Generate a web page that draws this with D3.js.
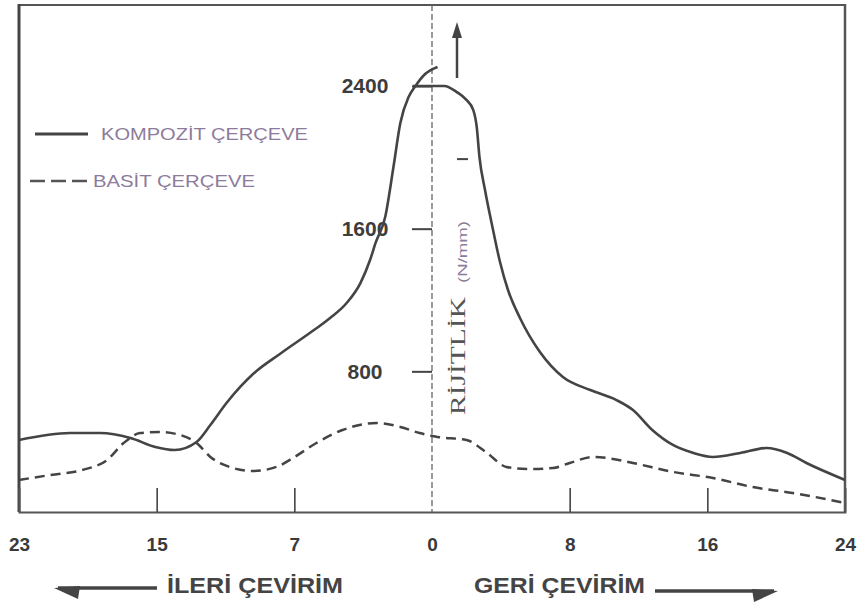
<!DOCTYPE html>
<html>
<head>
<meta charset="utf-8">
<script src="https://cdn.jsdelivr.net/npm/d3@7"></script>
<style>
  body { margin: 0; background: #fff; }
  svg { display: block; font-family: "Liberation Sans", Arial, sans-serif; }
</style>
</head>
<body>
<div id="chart"></div>
<script>
// eksen konumu: bir aralik = bir tik (sol taraf ileri cevirim, sag taraf geri cevirim)
const xTickPos = [-3, -2, -1, 0, 1, 2, 3];
const xTickLabels = ["23", "15", "7", "0", "8", "16", "24"];
const yTicks = [800, 1600, 2400];

// KOMPOZIT CERCEVE, ileri cevirim kolu
const kompozitIleriX = [-3, -2.63, -2.41, -2.19, -2.01, -1.87, -1.71, -1.61, -1.49, -1.39, -1.3, -1.1, -0.86, -0.74, -0.62, -0.52, -0.45, -0.41, -0.34, -0.28, -0.23, -0.17, -0.12, -0.05, 0.04];
const kompozitIleriY = [415, 454, 454, 426, 376, 359, 404, 499, 625, 715, 785, 900, 1030, 1099, 1183, 1295, 1424, 1520, 1665, 1946, 2193, 2338, 2400, 2467, 2507];

// KOMPOZIT CERCEVE, geri cevirim kolu
const kompozitGeriX = [-0.14, 0.09, 0.18, 0.25, 0.3, 0.325, 0.345, 0.385, 0.436, 0.494, 0.552, 0.639, 0.784, 0.951, 1.15, 1.34, 1.46, 1.6, 1.75, 1.9, 2.04, 2.24, 2.43, 2.58, 2.72, 3];
const kompozitGeriY = [2400, 2400, 2366, 2322, 2265, 2170, 2000, 1817, 1621, 1413, 1256, 1099, 908, 768, 695, 639, 583, 471, 387, 342, 320, 342, 370, 342, 286, 191];

// BASIT CERCEVE
const basitX = [-3, -2.77, -2.54, -2.36, -2.24, -2.12, -1.98, -1.83, -1.71, -1.61, -1.47, -1.3, -1.13, -1.01, -0.84, -0.65, -0.4, -0.23, -0.09, 0.04, 0.25, 0.4, 0.54, 0.69, 0.88, 1, 1.17, 1.27, 1.46, 1.75, 2.04, 2.33, 2.62, 3];
const basitY = [191, 219, 247, 303, 398, 454, 460, 443, 398, 320, 264, 241, 264, 314, 398, 471, 510, 488, 454, 432, 415, 342, 264, 252, 258, 286, 320, 314, 286, 236, 202, 151, 118, 62];

const width = 862, height = 610;
const frame = { left: 19, right: 845, top: 5, bottom: 512 };

const svg = d3.select("#chart").append("svg").attr("width", width).attr("height", height);

const x = d3.scaleLinear().domain([-3, 3]).range([frame.left, frame.right]);
const y = d3.scaleLinear().domain([0, 2400]).range([514, 86]);

const zip = (xs, ys) => xs.map((v, i) => [v, ys[i]]);
const line = d3.line().x((d) => x(d[0])).y((d) => y(d[1])).curve(d3.curveMonotoneX);

// cerceve
svg.append("line").attr("x1", frame.left).attr("x2", frame.right).attr("y1", frame.top).attr("y2", frame.top)
  .attr("stroke", "#555").attr("stroke-width", 2);
svg.append("line").attr("x1", frame.left).attr("x2", frame.left).attr("y1", frame.top - 1).attr("y2", frame.bottom)
  .attr("stroke", "#444").attr("stroke-width", 3);
svg.append("line").attr("x1", frame.right).attr("x2", frame.right).attr("y1", frame.top - 1).attr("y2", frame.bottom)
  .attr("stroke", "#555").attr("stroke-width", 2.5);

// orta eksen (kesik cizgi)
svg.append("line").attr("x1", x(0)).attr("x2", x(0)).attr("y1", frame.top).attr("y2", frame.bottom)
  .attr("stroke", "#666").attr("stroke-width", 1.3).attr("stroke-dasharray", "6,3");

// x ekseni
const xAxis = svg.append("g").attr("transform", `translate(0,${frame.bottom})`)
  .call(d3.axisBottom(x).tickValues(xTickPos).tickSize(-24).tickPadding(26).tickFormat((d, i) => xTickLabels[i]));
xAxis.select(".domain").attr("stroke", "#555").attr("stroke-width", 2);
xAxis.selectAll(".tick line").attr("stroke", "#444").attr("stroke-width", 1.6)
  .filter((d) => Math.abs(d) === 3 || d === 0).remove();
xAxis.selectAll(".tick text").attr("font-size", 19).attr("font-weight", "bold").attr("fill", "#3a3a3a")
  .attr("font-family", "Liberation Sans, Arial, sans-serif");

// y ekseni
const yAxis = svg.append("g").attr("transform", `translate(${x(0)},0)`)
  .call(d3.axisLeft(y).tickValues(yTicks).tickSize(20).tickPadding(48).tickFormat(d3.format("d")));
yAxis.select(".domain").remove();
yAxis.selectAll(".tick line").attr("stroke", "#444").attr("stroke-width", 2);
yAxis.selectAll(".tick text").attr("text-anchor", "middle").attr("x", -67).attr("font-size", 21)
  .attr("font-weight", "bold").attr("fill", "#3d3d3d").attr("font-family", "Liberation Sans, Arial, sans-serif");
svg.append("line").attr("x1", x(0) + 25).attr("x2", x(0) + 36).attr("y1", y(1990)).attr("y2", y(1990))
  .attr("stroke", "#444").attr("stroke-width", 2);

// yukari ok
svg.append("line").attr("x1", 457).attr("x2", 457).attr("y1", 78).attr("y2", 34).attr("stroke", "#444").attr("stroke-width", 2.5);
svg.append("path").attr("d", "M457,22 L462,38 L452,38 Z").attr("fill", "#444");

// eksen yazisi
svg.append("g").attr("transform", "translate(465,356) rotate(-90)")
  .append("text").attr("text-anchor", "middle").attr("font-family", "Liberation Serif, serif")
  .attr("font-size", 22).attr("fill", "#555").attr("textLength", 118).attr("lengthAdjust", "spacingAndGlyphs")
  .text("RİJİTLİK");
svg.append("g").attr("transform", "translate(467,252) rotate(-90)")
  .append("text").attr("text-anchor", "middle").attr("font-size", 12).attr("fill", "#8d7b9b")
  .attr("textLength", 62).attr("lengthAdjust", "spacingAndGlyphs").text("(N/mm)");

// egriler
svg.append("path").attr("d", line(zip(basitX, basitY))).attr("fill", "none")
  .attr("stroke", "#444").attr("stroke-width", 2.5).attr("stroke-dasharray", "10,6");
svg.append("path").attr("d", line(zip(kompozitIleriX, kompozitIleriY))).attr("fill", "none")
  .attr("stroke", "#444").attr("stroke-width", 2.6);
svg.append("path").attr("d", line(zip(kompozitGeriX, kompozitGeriY))).attr("fill", "none")
  .attr("stroke", "#444").attr("stroke-width", 2.6);

// lejant
svg.append("line").attr("x1", 35).attr("x2", 88).attr("y1", 134).attr("y2", 134).attr("stroke", "#444").attr("stroke-width", 3);
svg.append("text").attr("x", 101).attr("y", 140).attr("font-size", 17).attr("fill", "#8d7b9b")
  .attr("textLength", 207).attr("lengthAdjust", "spacingAndGlyphs").text("KOMPOZİT ÇERÇEVE");
svg.append("line").attr("x1", 30).attr("x2", 87).attr("y1", 181).attr("y2", 181).attr("stroke", "#555")
  .attr("stroke-width", 2.5).attr("stroke-dasharray", "15,6");
svg.append("text").attr("x", 93).attr("y", 187).attr("font-size", 17).attr("fill", "#8d7b9b")
  .attr("textLength", 162).attr("lengthAdjust", "spacingAndGlyphs").text("BASİT ÇERÇEVE");

// alt basliklar ve oklar
const baslik = { "font-size": 22, "font-weight": "bold", fill: "#444", "font-family": "Liberation Sans Narrow, Liberation Sans, Arial, sans-serif" };
const t1 = svg.append("text").attr("x", 167).attr("y", 593).attr("textLength", 176).attr("lengthAdjust", "spacingAndGlyphs").text("İLERİ ÇEVİRİM");
const t2 = svg.append("text").attr("x", 474).attr("y", 593).attr("textLength", 171).attr("lengthAdjust", "spacingAndGlyphs").text("GERİ ÇEVİRİM");
for (const t of [t1, t2]) for (const k in baslik) t.attr(k, baslik[k]);
svg.append("line").attr("x1", 58).attr("x2", 157).attr("y1", 588).attr("y2", 588).attr("stroke", "#444").attr("stroke-width", 3.5);
svg.append("path").attr("d", "M54,588 L80,586 L78,599 Z").attr("fill", "#444");
svg.append("line").attr("x1", 655).attr("x2", 774).attr("y1", 591).attr("y2", 591).attr("stroke", "#444").attr("stroke-width", 3.5);
svg.append("path").attr("d", "M778,591 L752,589 L754,602 Z").attr("fill", "#444");
</script>
</body>
</html>
